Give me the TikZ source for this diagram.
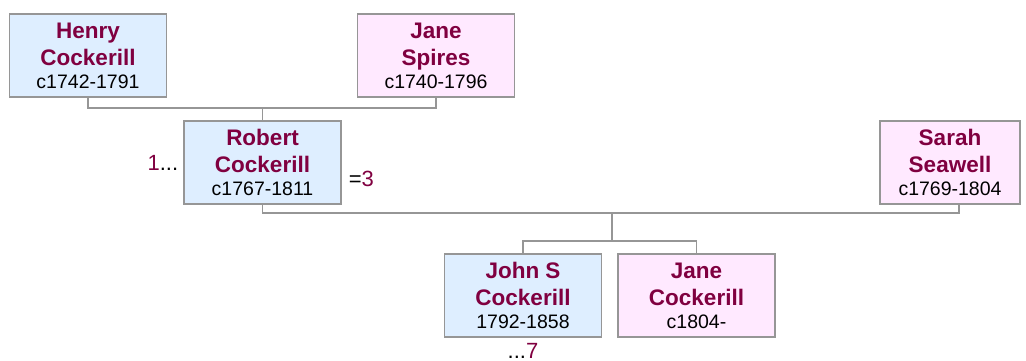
\documentclass[tikz,border=0pt]{standalone}
\usepackage{fontspec}
\setmainfont{Liberation Sans}
\usetikzlibrary{positioning}

\definecolor{namered}{RGB}{128,0,64}
\definecolor{malefill}{RGB}{222,238,255}
\definecolor{femalefill}{RGB}{255,233,255}
\definecolor{boxline}{RGB}{150,150,150}

\newcommand{\pname}[1]{\textcolor{namered}{\fontsize{22.5}{27}\selectfont\bfseries #1}}

\tikzset{
	person/.style={draw=boxline, line width=1.2pt, minimum width=157pt, minimum height=83pt,
		inner sep=0pt, align=center, font=\fontsize{19.5}{23}\selectfont},
	male/.style={person, fill=malefill},
	female/.style={person, fill=femalefill},
	link/.style={draw=boxline, line width=1.2pt},
	ref/.style={inner sep=0pt, font=\fontsize{22}{26}\selectfont}
}

\begin{document}
\begin{tikzpicture}[x=1pt, y=-1pt]
\useasboundingbox (0,0) rectangle (1026,360);

\node[male] (henry) at (88,55.5) {\pname{Henry}\\[4pt]\pname{Cockerill}\\c1742-1791};
\node[female] (jspires) at (436,55.5) {\pname{Jane}\\[4pt]\pname{Spires}\\c1740-1796};
\node[male] (robert) at (262.5,162.5) {\pname{Robert}\\[4pt]\pname{Cockerill}\\c1767-1811};
\node[female, minimum width=140pt] (sarah) at (950,162.5) {\pname{Sarah}\\[4pt]\pname{Seawell}\\c1769-1804};
\node[male] (john) at (523,295.5) {\pname{John S}\\[4pt]\pname{Cockerill}\\1792-1858};
\node[female] (janec) at (696.5,295.5) {\pname{Jane}\\[4pt]\pname{Cockerill}\\c1804-};

\coordinate (pa) at (262.5,108);
\coordinate (pb) at (612,213);
\coordinate (pc) at (612,241);
\coordinate (sdrop) at ([xshift=9pt]sarah.south);

\draw[link] (henry.south) |- (pa) -| (jspires.south);
\draw[link] (pa) -- (robert.north);
\draw[link] (robert.south) |- (pb) -| (sdrop);
\draw[link] (pb) -- (pc);
\draw[link] (john.north) |- (pc) -| (janec.north);

\node[ref, left=5pt of robert] (rleft) {\textcolor{namered}{1}...};
\node[ref, right=7pt of robert, yshift=-16pt] (rright) {=\textcolor{namered}{3}};
\node[ref, below=6pt of john] (jdown) {...\textcolor{namered}{7}};

\end{tikzpicture}
\end{document}
